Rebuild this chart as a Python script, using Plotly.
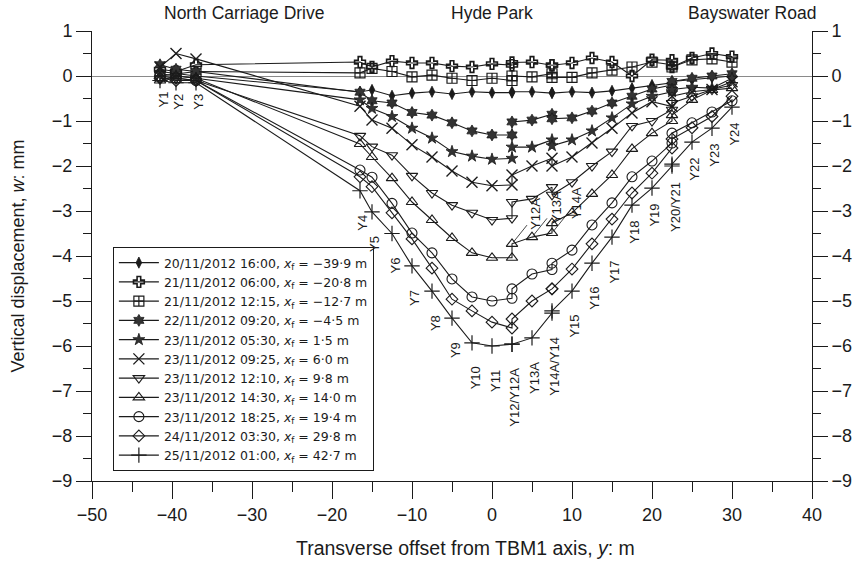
import plotly.graph_objects as go

# ---------------- data ----------------
point_ids = ["Y1", "Y2", "Y3", "Y4", "Y5", "Y6", "Y7", "Y8", "Y9", "Y10", "Y11",
             "Y12", "Y12A", "Y13A", "Y14A", "Y14", "Y15", "Y16", "Y17", "Y18",
             "Y19", "Y20", "Y21", "Y22", "Y23", "Y24"]
offset_y = [-41.5, -39.5, -37.0, -16.5, -15.0, -12.5, -10.0, -7.5, -5.0, -2.5, 0.0,
            2.5, 2.5, 5.0, 7.5, 7.5, 10.0, 12.5, 15.0, 17.5,
            20.0, 22.5, 22.5, 25.0, 27.5, 30.0]

w_20_1600 = [0.10, 0.05, 0.00, -0.35, -0.31, -0.44, -0.38, -0.35, -0.40, -0.35, -0.37,
             -0.37, -0.35, -0.35, -0.37, -0.38, -0.35, -0.37, -0.33, -0.27,
             -0.20, -0.15, -0.12, -0.08, -0.03, 0.00]
w_21_0600 = [0.15, 0.10, 0.25, 0.31, 0.20, 0.33, 0.29, 0.29, 0.22, 0.20, 0.27,
             0.24, 0.30, 0.31, 0.24, 0.24, 0.29, 0.40, 0.31, 0.00,
             0.36, 0.35, 0.20, 0.40, 0.50, 0.43]
w_21_1215 = [0.00, 0.05, 0.10, 0.07, 0.17, 0.10, -0.02, 0.02, -0.05, -0.10, -0.05,
             -0.10, 0.00, -0.02, 0.05, -0.03, -0.03, 0.07, 0.13, 0.20,
             0.31, 0.25, 0.20, 0.36, 0.38, 0.31]
w_22_0920 = [0.25, 0.15, 0.10, -0.36, -0.55, -0.60, -0.81, -0.87, -1.04, -1.22, -1.31,
             -1.31, -1.02, -0.98, -0.85, -0.95, -0.93, -0.78, -0.60, -0.45,
             -0.29, -0.20, -0.12, -0.05, 0.00, 0.05]
w_23_0530 = [0.05, 0.00, -0.05, -0.53, -0.72, -0.90, -1.16, -1.38, -1.68, -1.78, -1.85,
             -1.83, -1.58, -1.58, -1.42, -1.55, -1.42, -1.22, -0.93, -0.62,
             -0.45, -0.35, -0.30, -0.25, -0.27, -0.05]
w_23_0925 = [0.20, 0.50, 0.38, -0.67, -0.98, -1.16, -1.53, -1.80, -2.11, -2.36, -2.44,
             -2.42, -2.20, -2.00, -1.83, -2.00, -1.80, -1.49, -1.16, -0.82,
             -0.57, -0.68, -0.45, -0.35, -0.30, -0.13]
w_23_1210 = [-0.05, -0.05, -0.10, -1.33, -1.57, -1.76, -2.22, -2.60, -2.87, -3.04, -3.20,
             -3.16, -2.80, -2.73, -2.47, -2.64, -2.36, -2.00, -1.68, -1.11,
             -1.00, -0.75, -0.60, -0.45, -0.30, -0.20]
w_23_1430 = [-0.10, 0.00, -0.05, -1.51, -1.80, -2.27, -2.80, -3.20, -3.60, -3.93, -4.04,
             -4.04, -3.73, -3.58, -3.49, -3.27, -3.04, -2.62, -2.20, -1.62,
             -1.27, -1.00, -0.87, -0.53, -0.31, -0.27]
w_23_1825 = [0.00, -0.05, -0.10, -2.09, -2.25, -2.83, -3.49, -3.93, -4.51, -4.91, -5.00,
             -4.94, -4.73, -4.40, -4.30, -4.16, -3.87, -3.31, -2.82, -2.24,
             -1.89, -1.49, -1.27, -1.04, -0.80, -0.55]
w_24_0330 = [-0.05, -0.10, -0.10, -2.24, -2.46, -3.04, -3.62, -4.27, -4.96, -5.22, -5.47,
             -5.60, -5.40, -5.00, -4.73, -4.73, -4.29, -3.73, -3.18, -2.60,
             -2.16, -1.60, -1.40, -1.15, -0.90, -0.45]
w_25_0100 = [-0.10, -0.15, -0.15, -2.55, -3.02, -3.50, -4.22, -4.78, -5.38, -5.93, -6.00,
             -5.96, -5.96, -5.82, -5.27, -5.22, -4.78, -4.16, -3.58, -2.87,
             -2.49, -2.00, -1.96, -1.47, -1.16, -0.69]

series_names = [
    "20/11/2012 16:00, <i>x</i><sub>f</sub> = −39·9 m",
    "21/11/2012 06:00, <i>x</i><sub>f</sub> = −20·8 m",
    "21/11/2012 12:15, <i>x</i><sub>f</sub> = −12·7 m",
    "22/11/2012 09:20, <i>x</i><sub>f</sub> = −4·5 m",
    "23/11/2012 05:30, <i>x</i><sub>f</sub> = 1·5 m",
    "23/11/2012 09:25, <i>x</i><sub>f</sub> = 6·0 m",
    "23/11/2012 12:10, <i>x</i><sub>f</sub> = 9·8 m",
    "23/11/2012 14:30, <i>x</i><sub>f</sub> = 14·0 m",
    "23/11/2012 18:25, <i>x</i><sub>f</sub> = 19·4 m",
    "24/11/2012 03:30, <i>x</i><sub>f</sub> = 29·8 m",
    "25/11/2012 01:00, <i>x</i><sub>f</sub> = 42·7 m",
]
series_values = [w_20_1600, w_21_0600, w_21_1215, w_22_0920, w_23_0530, w_23_0925,
                 w_23_1210, w_23_1430, w_23_1825, w_24_0330, w_25_0100]

# bottom point labels and the point ids they name
point_labels = ["Y1", "Y2", "Y3", "Y4", "Y5", "Y6", "Y7", "Y8", "Y9", "Y10", "Y11",
                "Y12/Y12A", "Y13A", "Y14A/Y14", "Y15", "Y16", "Y17", "Y18", "Y19",
                "Y20/Y21", "Y22", "Y23", "Y24"]
# labels with leader lines on the 14·0 m curve
leader_labels = ["Y12A", "Y13A", "Y14A"]

site_names = ["North Carriage Drive", "Hyde Park", "Bayswater Road"]
site_offsets = [-31.0, 0.0, 32.5]

# ---------------- styles ----------------
INK = "#1b1b1b"
FONT = "Liberation Sans, Arial, Helvetica, sans-serif"
LEG_FONT = "DejaVu Sans, Liberation Sans, Arial, sans-serif"
styles = [
    dict(symbol="diamond-tall", size=8, color=INK, line=dict(width=0.8, color=INK)),
    dict(symbol="cross-open", size=9, color=INK, line=dict(width=1.6, color=INK)),
    dict(symbol="square-cross-open", size=10, color=INK, line=dict(width=1.2, color=INK)),
    dict(symbol="hexagram", size=9, color="#333", line=dict(width=0.8, color=INK)),
    dict(symbol="star", size=9, color="#333", line=dict(width=0.8, color=INK)),
    dict(symbol="x-thin-open", size=11, color=INK, line=dict(width=1.4, color=INK)),
    dict(symbol="triangle-down-open", size=10, color=INK, line=dict(width=1.1, color=INK)),
    dict(symbol="triangle-up-open", size=10, color=INK, line=dict(width=1.1, color=INK)),
    dict(symbol="circle-open", size=10, color=INK, line=dict(width=1.1, color=INK)),
    dict(symbol="diamond-open", size=9, color=INK, line=dict(width=1.1, color=INK)),
    dict(symbol="cross-thin-open", size=11, color=INK, line=dict(width=1.2, color=INK)),
]

fig = go.Figure()
for name, vals, st in zip(series_names, series_values, styles):
    fig.add_trace(go.Scatter(
        x=offset_y, y=vals, name=name, mode="lines+markers",
        line=dict(color=INK, width=1.1), marker=st,
    ))
# dummy trace to register right-hand axis
fig.add_trace(go.Scatter(x=[None], y=[None], yaxis="y2", showlegend=False,
                         hoverinfo="skip"))

ann = []
idx = {p: i for i, p in enumerate(point_ids)}
for lab in point_labels:
    members = lab.split("/")
    xs = offset_y[idx[members[0]]]
    ymin = min(v[idx[m]] for v in series_values for m in members)
    if xs < -30:
        ysh = -9
    elif xs <= 15:
        ysh = -22
    else:
        ysh = -14
    ann.append(dict(x=xs, y=ymin, xref="x", yref="y", text=lab, showarrow=False,
                    textangle=-90, yanchor="top", xanchor="center", yshift=ysh,
                    xshift=3, font=dict(size=13, color=INK, family=FONT)))
for lab in leader_labels:
    i = idx[lab]
    ann.append(dict(x=offset_y[i], y=w_23_1430[i], xref="x", yref="y", text=lab,
                    showarrow=True, arrowhead=0, arrowwidth=0.8, arrowcolor=INK,
                    ax=24, ay=-30, textangle=-90, standoff=2,
                    font=dict(size=13, color=INK, family=FONT)))
for s, xo in zip(site_names, site_offsets):
    ann.append(dict(x=xo, y=1.0, xref="x", yref="paper", text=s, showarrow=False,
                    yanchor="bottom", yshift=6, font=dict(size=17.5, color=INK, family=FONT)))
ann.append(dict(x=0.519, y=0, xref="paper", yref="paper", yanchor="top", yshift=-54,
                text="Transverse offset from TBM1 axis, <i>y</i>: m", showarrow=False,
                font=dict(size=19.5, color=INK, family=FONT)))

axis_common = dict(showline=True, linecolor=INK, linewidth=1, ticks="outside",
                   tickcolor=INK, tickwidth=1, showgrid=False, automargin=False,
                   tickfont=dict(size=18, color=INK, family=FONT))

fig.update_layout(
    width=867, height=563,
    margin=dict(l=92, r=55, t=31, b=82),
    paper_bgcolor="white", plot_bgcolor="white",
    font=dict(family=FONT, color=INK),
    xaxis=dict(range=[-50, 40], dtick=10, tick0=0, ticklen=17, zeroline=False,
               minor=dict(dtick=5, ticklen=10, ticks="outside", tickcolor=INK),
               **axis_common),
    yaxis=dict(range=[-9, 1], dtick=1, tick0=0, ticklen=15,
               zeroline=True, zerolinecolor="#8a8a8a", zerolinewidth=1,
               minor=dict(dtick=0.5, ticklen=8, ticks="outside", tickcolor=INK),
               title=dict(text="Vertical displacement, <i>w</i>: mm",
                          font=dict(size=18, color=INK, family=FONT), standoff=22),
               **axis_common),
    yaxis2=dict(range=[-9, 1], dtick=1, tick0=0, ticklen=15, overlaying="y",
                side="right", anchor="x", zeroline=False,
                minor=dict(dtick=0.5, ticklen=8, ticks="outside", tickcolor=INK),
                **axis_common),
    legend=dict(x=0.029, y=0.52, xanchor="left", yanchor="top",
                bordercolor=INK, borderwidth=1, bgcolor="white",
                font=dict(size=12.5, color=INK, family=LEG_FONT),
                itemwidth=40, tracegroupgap=0),
    annotations=ann,
    showlegend=True,
)

fig.write_html("out.html",
               config={"displayModeBar": False},
               post_script="document.body.style.margin='0';document.body.style.overflow='hidden';")
